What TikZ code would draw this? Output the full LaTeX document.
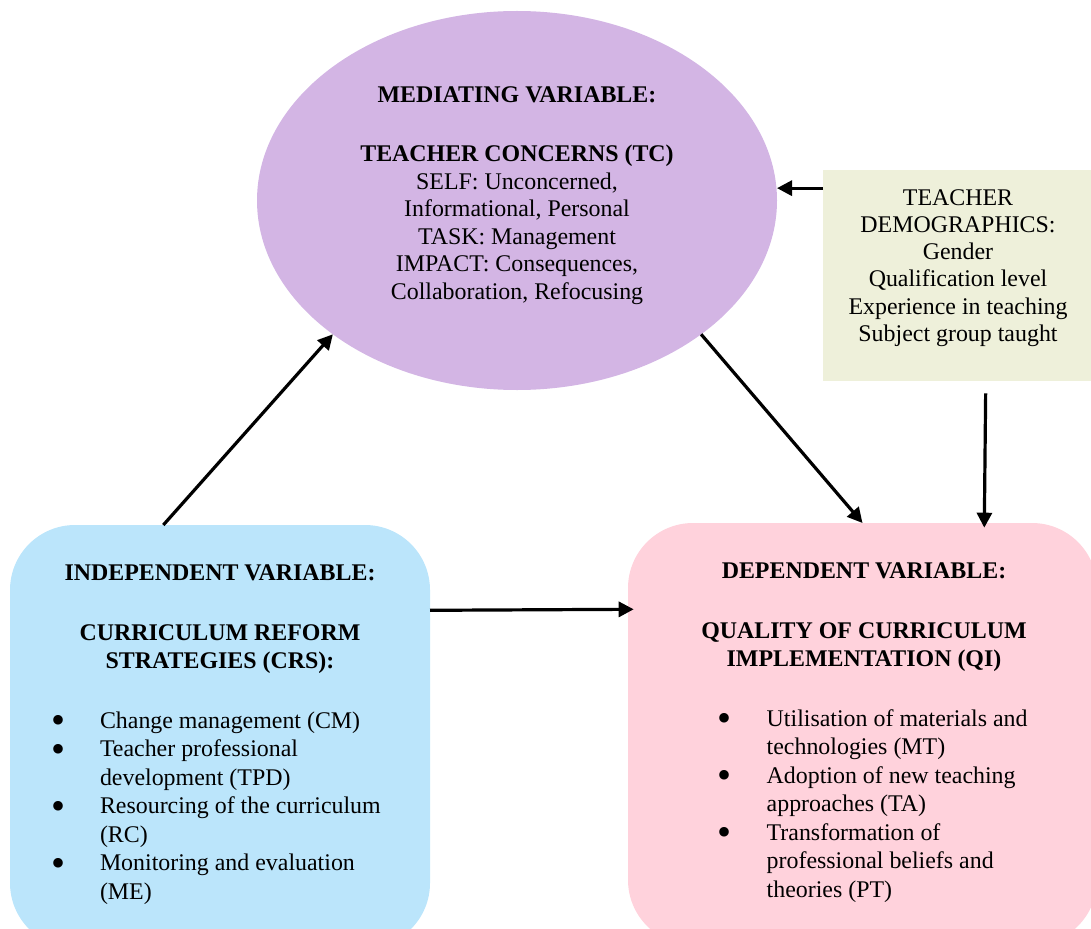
\documentclass[tikz,border=0pt]{standalone}
\usepackage{fontspec}
\setmainfont{Liberation Serif}
\usetikzlibrary{arrows.meta,shapes.geometric}
\definecolor{tcfill}{RGB}{211,181,228}
\definecolor{demofill}{RGB}{238,240,218}
\definecolor{crsfill}{RGB}{187,229,251}
\definecolor{qifill}{RGB}{255,210,220}
\begin{document}
\begin{tikzpicture}[x=1pt,y=-1pt,
  panel/.style={draw=none, inner sep=0pt, outer sep=0pt},
  roundpanel/.style={panel, rounded corners=65pt},
  txt/.style={inner sep=0pt, outer sep=0pt, font=\fontsize{23.9pt}{28.5pt}\selectfont},
  txtell/.style={inner sep=0pt, outer sep=0pt, font=\fontsize{23.9pt}{27.5pt}\selectfont},
  txtdemo/.style={inner sep=0pt, outer sep=0pt, font=\fontsize{23.9pt}{27.3pt}\selectfont},
  bul/.style={inner sep=0pt, outer sep=0pt, anchor=base, text height=0pt, text depth=0pt,
              font=\fontsize{40pt}{40pt}\selectfont},
  arr/.style={-{Triangle[length=15pt,width=15pt]}, line width=3.2pt, black}
]
\useasboundingbox (0,0) rectangle (1091,928);

% coloured shapes
\node[panel, shape=ellipse, fill=tcfill, minimum width=520pt, minimum height=379pt] (tc) at (517,200.5) {};
\node[panel, fill=demofill, minimum width=269pt, minimum height=211pt] (demo) at (957.5,275.5) {};
\node[roundpanel, fill=crsfill, minimum width=420pt, minimum height=423pt] (crs) at (220,736.5) {};
\node[roundpanel, fill=qifill, minimum width=469pt, minimum height=422pt] (qi) at (862.5,734) {};

% mediating variable
\node[txtell, align=center, anchor=north] (tctext) at (517,82.75)
  {\textbf{\strut MEDIATING VARIABLE:}\\[32.2pt]
   \textbf{TEACHER CONCERNS (TC)}\\
   SELF: Unconcerned,\\
   Informational, Personal\\
   TASK: Management\\
   IMPACT: Consequences,\\
   Collaboration, Refocusing};

% teacher demographics
\node[txtdemo, align=center, anchor=north] (demotext) at (958,185.9)
  {\strut TEACHER\\
   DEMOGRAPHICS:\\
   Gender\\
   Qualification level\\
   Experience in teaching\\
   Subject group taught};

% independent variable
\node[txt, align=center, anchor=north] (crshead) at (220,560.05)
  {\textbf{\strut INDEPENDENT VARIABLE:}\\[31.5pt]
   \textbf{CURRICULUM REFORM}\\
   \textbf{STRATEGIES (CRS):}};
\node[txt, align=left, anchor=north west] (crsitems) at (100,708.05)
  {\strut Change management (CM)\\
   Teacher professional\\
   development (TPD)\\
   Resourcing of the curriculum\\
   (RC)\\
   Monitoring and evaluation\\
   (ME)};
\foreach \i/\y in {1/728,2/756.5,3/813.5,4/870.5}
  \node[bul] (crsb\i) at (58.3,\y+5.9) {\textbullet};

% dependent variable
\node[txt, align=center, anchor=north] (qihead) at (864,558.05)
  {\textbf{\strut DEPENDENT VARIABLE:}\\[31.5pt]
   \textbf{QUALITY OF CURRICULUM}\\
   \textbf{IMPLEMENTATION (QI)}};
\node[txt, align=left, anchor=north west] (qiitems) at (766.7,706.05)
  {\strut Utilisation of materials and\\
   technologies (MT)\\
   Adoption of new teaching\\
   approaches (TA)\\
   Transformation of\\
   professional beliefs and\\
   theories (PT)};
\foreach \i/\y in {1/726,2/783,3/840}
  \node[bul] (qib\i) at (724.3,\y+5.9) {\textbullet};

% relations
\draw[arr] (crs.105.66) -- (tc.216.3);
\draw[arr] (tc.-36.06) -- (qi.90);
\draw[arr] (demo.147.04) -- (tc.east |- demo.147.04);
\draw[arr, shorten <=12.3pt, shorten >=-4.7pt] (demo.-75.9) -- (qi.60.07);
\draw[arr, shorten >=-5.7pt] (crs.31.2) -- (qi.152.4);
\end{tikzpicture}
\end{document}
